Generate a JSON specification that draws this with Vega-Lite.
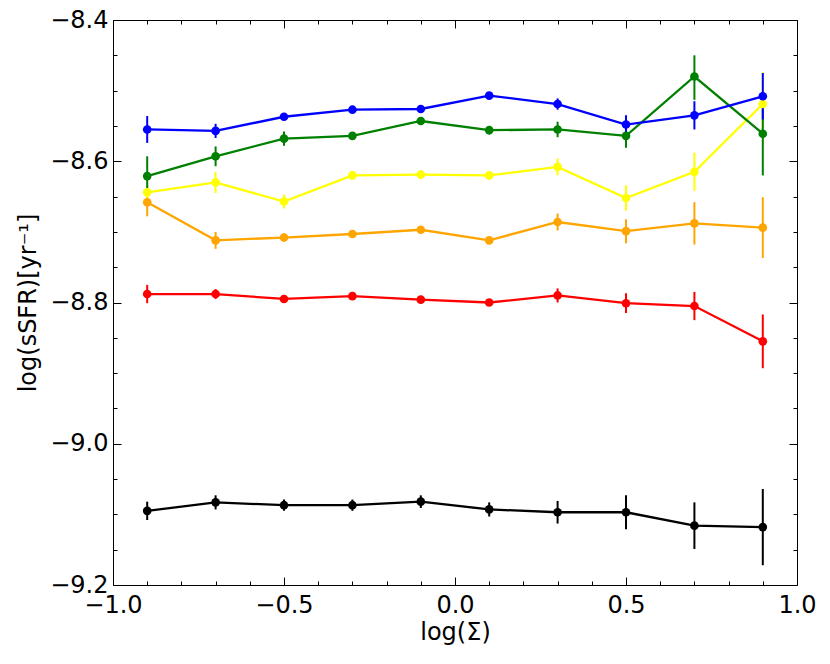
{
  "$schema": "https://vega.github.io/schema/vega-lite/v6.json",
  "width": 684,
  "height": 565,
  "autosize": "none",
  "padding": {"left": 113, "top": 20, "right": 33, "bottom": 79},
  "background": "white",
  "config": {
    "view": {"stroke": "black", "strokeWidth": 1},
    "axis": {
      "domain": false,
      "grid": false,
      "labelFont": "DejaVu Sans",
      "titleFont": "DejaVu Sans",
      "labelFontSize": 24,
      "titleFontSize": 24,
      "labelColor": "black",
      "titleColor": "black",
      "tickColor": "black",
      "tickWidth": 1,
      "labelFlush": false,
      "labelOverlap": false,
      "titleFontWeight": "normal"
    }
  },
  "data": {
    "values": [
      {"s": "black", "x": -0.9, "y": -9.095, "lo": -9.108, "hi": -9.082},
      {"s": "black", "x": -0.7, "y": -9.083, "lo": -9.093, "hi": -9.073},
      {"s": "black", "x": -0.5, "y": -9.087, "lo": -9.095, "hi": -9.079},
      {"s": "black", "x": -0.3, "y": -9.087, "lo": -9.095, "hi": -9.079},
      {"s": "black", "x": -0.1, "y": -9.082, "lo": -9.091, "hi": -9.073},
      {"s": "black", "x": 0.1, "y": -9.093, "lo": -9.103, "hi": -9.083},
      {"s": "black", "x": 0.3, "y": -9.097, "lo": -9.113, "hi": -9.081},
      {"s": "black", "x": 0.5, "y": -9.097, "lo": -9.121, "hi": -9.073},
      {"s": "black", "x": 0.7, "y": -9.116, "lo": -9.149, "hi": -9.083},
      {"s": "black", "x": 0.9, "y": -9.118, "lo": -9.172, "hi": -9.064},
      {"s": "red", "x": -0.9, "y": -8.788, "lo": -8.801, "hi": -8.775},
      {"s": "red", "x": -0.7, "y": -8.788, "lo": -8.795, "hi": -8.781},
      {"s": "red", "x": -0.5, "y": -8.795, "lo": -8.800, "hi": -8.790},
      {"s": "red", "x": -0.3, "y": -8.791, "lo": -8.796, "hi": -8.786},
      {"s": "red", "x": -0.1, "y": -8.796, "lo": -8.800, "hi": -8.792},
      {"s": "red", "x": 0.1, "y": -8.800, "lo": -8.804, "hi": -8.796},
      {"s": "red", "x": 0.3, "y": -8.790, "lo": -8.800, "hi": -8.780},
      {"s": "red", "x": 0.5, "y": -8.801, "lo": -8.815, "hi": -8.787},
      {"s": "red", "x": 0.7, "y": -8.805, "lo": -8.825, "hi": -8.785},
      {"s": "red", "x": 0.9, "y": -8.855, "lo": -8.893, "hi": -8.817},
      {"s": "orange", "x": -0.9, "y": -8.658, "lo": -8.678, "hi": -8.638},
      {"s": "orange", "x": -0.7, "y": -8.712, "lo": -8.724, "hi": -8.700},
      {"s": "orange", "x": -0.5, "y": -8.708, "lo": -8.714, "hi": -8.702},
      {"s": "orange", "x": -0.3, "y": -8.703, "lo": -8.708, "hi": -8.698},
      {"s": "orange", "x": -0.1, "y": -8.697, "lo": -8.702, "hi": -8.692},
      {"s": "orange", "x": 0.1, "y": -8.712, "lo": -8.717, "hi": -8.707},
      {"s": "orange", "x": 0.3, "y": -8.686, "lo": -8.698, "hi": -8.674},
      {"s": "orange", "x": 0.5, "y": -8.699, "lo": -8.716, "hi": -8.682},
      {"s": "orange", "x": 0.7, "y": -8.688, "lo": -8.718, "hi": -8.658},
      {"s": "orange", "x": 0.9, "y": -8.694, "lo": -8.737, "hi": -8.651},
      {"s": "yellow", "x": -0.9, "y": -8.644, "lo": -8.654, "hi": -8.634},
      {"s": "yellow", "x": -0.7, "y": -8.630, "lo": -8.645, "hi": -8.615},
      {"s": "yellow", "x": -0.5, "y": -8.657, "lo": -8.667, "hi": -8.647},
      {"s": "yellow", "x": -0.3, "y": -8.620, "lo": -8.626, "hi": -8.614},
      {"s": "yellow", "x": -0.1, "y": -8.619, "lo": -8.625, "hi": -8.613},
      {"s": "yellow", "x": 0.1, "y": -8.620, "lo": -8.626, "hi": -8.614},
      {"s": "yellow", "x": 0.3, "y": -8.608, "lo": -8.620, "hi": -8.596},
      {"s": "yellow", "x": 0.5, "y": -8.652, "lo": -8.670, "hi": -8.634},
      {"s": "yellow", "x": 0.7, "y": -8.615, "lo": -8.642, "hi": -8.588},
      {"s": "yellow", "x": 0.9, "y": -8.519, "lo": -8.564, "hi": -8.474},
      {"s": "green", "x": -0.9, "y": -8.621, "lo": -8.649, "hi": -8.593},
      {"s": "green", "x": -0.7, "y": -8.593, "lo": -8.607, "hi": -8.579},
      {"s": "green", "x": -0.5, "y": -8.568, "lo": -8.578, "hi": -8.558},
      {"s": "green", "x": -0.3, "y": -8.564, "lo": -8.568, "hi": -8.560},
      {"s": "green", "x": -0.1, "y": -8.543, "lo": -8.547, "hi": -8.539},
      {"s": "green", "x": 0.1, "y": -8.556, "lo": -8.562, "hi": -8.550},
      {"s": "green", "x": 0.3, "y": -8.555, "lo": -8.566, "hi": -8.544},
      {"s": "green", "x": 0.5, "y": -8.564, "lo": -8.581, "hi": -8.547},
      {"s": "green", "x": 0.7, "y": -8.480, "lo": -8.513, "hi": -8.450},
      {"s": "green", "x": 0.9, "y": -8.561, "lo": -8.620, "hi": -8.502},
      {"s": "blue", "x": -0.9, "y": -8.555, "lo": -8.574, "hi": -8.536},
      {"s": "blue", "x": -0.7, "y": -8.557, "lo": -8.567, "hi": -8.547},
      {"s": "blue", "x": -0.5, "y": -8.537, "lo": -8.542, "hi": -8.532},
      {"s": "blue", "x": -0.3, "y": -8.527, "lo": -8.531, "hi": -8.523},
      {"s": "blue", "x": -0.1, "y": -8.526, "lo": -8.530, "hi": -8.522},
      {"s": "blue", "x": 0.1, "y": -8.507, "lo": -8.511, "hi": -8.503},
      {"s": "blue", "x": 0.3, "y": -8.519, "lo": -8.527, "hi": -8.511},
      {"s": "blue", "x": 0.5, "y": -8.548, "lo": -8.561, "hi": -8.535},
      {"s": "blue", "x": 0.7, "y": -8.535, "lo": -8.555, "hi": -8.515},
      {"s": "blue", "x": 0.9, "y": -8.508, "lo": -8.541, "hi": -8.475}
    ]
  },
  "layer": [
    {
      "mark": {"type": "rule", "strokeWidth": 2},
      "encoding": {
        "x": {
          "field": "x", "type": "quantitative",
          "scale": {"domain": [-1, 1], "nice": false, "zero": false},
          "axis": {"orient": "bottom", "values": [-1, -0.5, 0, 0.5, 1], "format": ".1f", "tickSize": -8, "labelPadding": 16, "title": "log(Σ)", "titlePadding": 3}
        },
        "y": {
          "field": "lo", "type": "quantitative",
          "scale": {"domain": [-9.2, -8.4], "nice": false, "zero": false},
          "axis": {"orient": "left", "values": [-9.2, -9.0, -8.8, -8.6, -8.4], "format": ".1f", "tickSize": -8, "labelPadding": 13, "title": "log(sSFR)[yr⁻¹]", "titlePadding": 9}
        },
        "y2": {"field": "hi"},
        "color": {
          "field": "s", "type": "nominal", "legend": null,
          "scale": {"domain": ["black", "red", "orange", "yellow", "green", "blue"], "range": ["#000000", "#ff0000", "#ffa500", "#ffff00", "#008000", "#0000ff"]}
        }
      }
    },
    {
      "mark": {"type": "line", "strokeWidth": 2.3},
      "encoding": {
        "x": {
          "field": "x", "type": "quantitative",
          "scale": {"domain": [-1, 1], "nice": false, "zero": false},
          "axis": {"orient": "bottom", "values": [-0.9, -0.8, -0.7, -0.6, -0.4, -0.3, -0.2, -0.1, 0.1, 0.2, 0.3, 0.4, 0.6, 0.7, 0.8, 0.9], "labels": false, "tickSize": -4, "title": null}
        },
        "y": {
          "field": "y", "type": "quantitative",
          "scale": {"domain": [-9.2, -8.4], "nice": false, "zero": false},
          "axis": {"orient": "left", "values": [-9.15, -9.1, -9.05, -8.95, -8.9, -8.85, -8.75, -8.7, -8.65, -8.55, -8.5, -8.45], "labels": false, "tickSize": -4, "title": null}
        },
        "color": {"field": "s", "type": "nominal", "legend": null}
      }
    },
    {
      "mark": {"type": "point", "filled": true, "shape": "circle", "size": 75, "opacity": 1},
      "encoding": {
        "x": {
          "field": "x", "type": "quantitative",
          "scale": {"domain": [-1, 1], "nice": false, "zero": false},
          "axis": {"orient": "top", "values": [-1, -0.5, 0, 0.5, 1], "labels": false, "tickSize": -8, "title": null}
        },
        "y": {
          "field": "y", "type": "quantitative",
          "scale": {"domain": [-9.2, -8.4], "nice": false, "zero": false},
          "axis": {"orient": "right", "values": [-9.2, -9.0, -8.8, -8.6, -8.4], "labels": false, "tickSize": -8, "title": null}
        },
        "color": {"field": "s", "type": "nominal", "legend": null}
      }
    },
    {
      "mark": {"type": "point", "filled": true, "opacity": 0, "size": 1},
      "encoding": {
        "x": {
          "field": "x", "type": "quantitative",
          "scale": {"domain": [-1, 1], "nice": false, "zero": false},
          "axis": {"orient": "top", "values": [-0.9, -0.8, -0.7, -0.6, -0.4, -0.3, -0.2, -0.1, 0.1, 0.2, 0.3, 0.4, 0.6, 0.7, 0.8, 0.9], "labels": false, "tickSize": -4, "title": null}
        },
        "y": {
          "field": "y", "type": "quantitative",
          "scale": {"domain": [-9.2, -8.4], "nice": false, "zero": false},
          "axis": {"orient": "right", "values": [-9.15, -9.1, -9.05, -8.95, -8.9, -8.85, -8.75, -8.7, -8.65, -8.55, -8.5, -8.45], "labels": false, "tickSize": -4, "title": null}
        },
        "color": {"field": "s", "type": "nominal", "legend": null}
      }
    }
  ],
  "resolve": {"axis": {"x": "independent", "y": "independent"}}
}
